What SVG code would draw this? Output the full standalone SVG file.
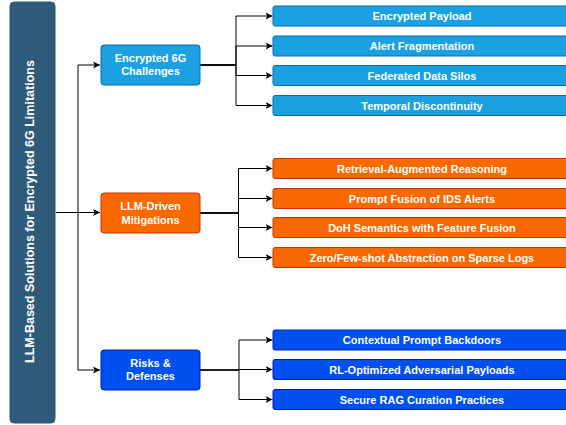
<svg xmlns="http://www.w3.org/2000/svg" width="566" height="425" viewBox="0 0 566 425">
<style>
  text { font-family: "Liberation Sans", Arial, sans-serif; font-weight: bold; font-size: 11px; fill: #ffffff; text-anchor: middle; }
  .root-label { font-size: 12.5px; }
  .c1 { fill: #1ba1e2; stroke: #006eaf; stroke-width: 1; }
  .c2 { fill: #fa6800; stroke: #c73500; stroke-width: 1; }
  .c3 { fill: #0050ef; stroke: #001dbc; stroke-width: 1; }
  .edge { fill: none; stroke: #000000; stroke-width: 1; marker-end: url(#arr); }
</style>
<defs>
  <marker id="arr" markerUnits="userSpaceOnUse" markerWidth="8" markerHeight="8" refX="7" refY="4" orient="auto">
    <path d="M0,0.5 L7,4 L0,7.5 L1.8,4 Z" fill="#000000"/>
  </marker>
</defs>
<rect width="566" height="425" fill="#ffffff"/>
<g id="root">
  <rect x="10" y="2" width="45" height="421" rx="4" fill="#2f5b7b" stroke="#2f5b7b"/>
  <text class="root-label" transform="translate(34,211.5) rotate(-90)" y="0">LLM-Based Solutions for Encrypted 6G Limitations</text>
</g>
<g id="connectors">
  <path class="edge" d="M56,212.5 H78 V65 H100"/>
  <path class="edge" d="M56,212.5 H100"/>
  <path class="edge" d="M56,212.5 H78 V370 H100"/>
  <path class="edge" d="M200,65 H236 V16 H272.5"/>
  <path class="edge" d="M200,65 H236 V46 H272.5"/>
  <path class="edge" d="M200,65 H236 V75.5 H272.5"/>
  <path class="edge" d="M200,65 H236 V105.5 H272.5"/>
  <path class="edge" d="M200,213 H238.5 V168.5 H272.5"/>
  <path class="edge" d="M200,213 H238.5 V198.5 H272.5"/>
  <path class="edge" d="M200,213 H238.5 V227.5 H272.5"/>
  <path class="edge" d="M200,213 H238.5 V257.5 H272.5"/>
  <path class="edge" d="M200,370 H239 V340 H272.5"/>
  <path class="edge" d="M200,370 H239 V369.5 H272.5"/>
  <path class="edge" d="M200,370 H239 V399.5 H272.5"/>
</g>
<g id="n-challenges">
  <rect class="c1" x="101" y="45" width="99" height="40" rx="3"/>
  <text x="150.5" y="62">Encrypted 6G</text>
  <text x="150.5" y="75">Challenges</text>
</g>
<g id="n-mitigations">
  <rect class="c2" x="101" y="193" width="99" height="40" rx="3"/>
  <text x="150.5" y="210">LLM-Driven</text>
  <text x="150.5" y="223.5">Mitigations</text>
</g>
<g id="n-risks">
  <rect class="c3" x="101" y="350" width="99" height="40" rx="3"/>
  <text x="150.5" y="366.5">Risks &amp;</text>
  <text x="150.5" y="380">Defenses</text>
</g>
<g id="n-payload">
  <rect class="c1" x="273" y="6" width="298" height="20" rx="2"/>
  <text x="422" y="20">Encrypted Payload</text>
</g>
<g id="n-fragmentation">
  <rect class="c1" x="273" y="36" width="298" height="20" rx="2"/>
  <text x="422" y="50">Alert Fragmentation</text>
</g>
<g id="n-silos">
  <rect class="c1" x="273" y="65.5" width="298" height="20" rx="2"/>
  <text x="422" y="79.5">Federated Data Silos</text>
</g>
<g id="n-temporal">
  <rect class="c1" x="273" y="95.5" width="298" height="20" rx="2"/>
  <text x="422" y="109.5">Temporal Discontinuity</text>
</g>
<g id="n-rag">
  <rect class="c2" x="273" y="158.5" width="298" height="20" rx="2"/>
  <text x="422" y="172.5">Retrieval-Augmented Reasoning</text>
</g>
<g id="n-prompt-fusion">
  <rect class="c2" x="273" y="188.5" width="298" height="20" rx="2"/>
  <text x="422" y="202.5">Prompt Fusion of IDS Alerts</text>
</g>
<g id="n-doh">
  <rect class="c2" x="273" y="217.5" width="298" height="20" rx="2"/>
  <text x="422" y="231.5">DoH Semantics with Feature Fusion</text>
</g>
<g id="n-zero-shot">
  <rect class="c2" x="273" y="247.5" width="298" height="20" rx="2"/>
  <text x="422" y="261.5">Zero/Few-shot Abstraction on Sparse Logs</text>
</g>
<g id="n-backdoors">
  <rect class="c3" x="273" y="330" width="298" height="20" rx="2"/>
  <text x="422" y="344">Contextual Prompt Backdoors</text>
</g>
<g id="n-adversarial">
  <rect class="c3" x="273" y="359.5" width="298" height="20" rx="2"/>
  <text x="422" y="373.5">RL-Optimized Adversarial Payloads</text>
</g>
<g id="n-secure-rag">
  <rect class="c3" x="273" y="389.5" width="298" height="20" rx="2"/>
  <text x="422" y="403.5">Secure RAG Curation Practices</text>
</g>
</svg>
